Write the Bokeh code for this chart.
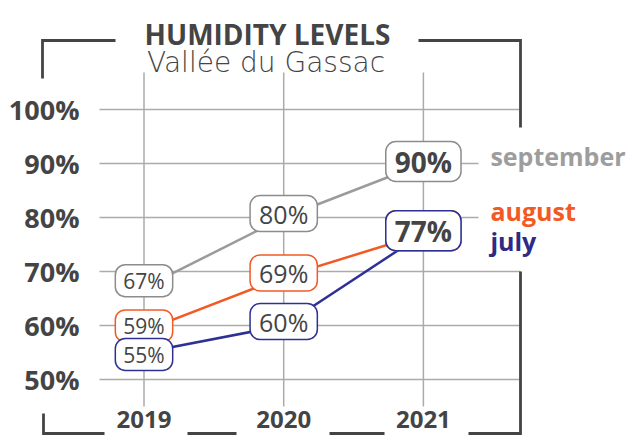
from bokeh.plotting import figure
from bokeh.models import Range1d
from bokeh.core.properties import value
from bokeh.embed import file_html
from bokeh.resources import INLINE

# ---------------- data ----------------
years = ["2019", "2020", "2021"]
september = [67, 80, 90]
august = [59, 69, 77]
july = [55, 60, 77]
series_names = ["september", "august", "july"]
y_ticks = [50, 60, 70, 80, 90, 100]
y_tick_labels = ["50%", "60%", "70%", "80%", "90%", "100%"]
TITLE = "HUMIDITY LEVELS"
SUBTITLE = "Vallée du Gassac"

# ---------------- layout / style ----------------
W, H = 629, 436
X0, DX = 143.5, 139.7     # px of first year, px per year
Y0, DY = 649.0, 5.4       # px_y = Y0 - DY * value

def px(x):
    return (x - X0) / DX

def py(y):
    return (Y0 - y) / DY

DARK = "#444444"
GRID = "#ababab"
line_colors = ["#9b9b9b", "#f15a24", "#2e3192"]
box_colors = ["#8c8c8c", "#f15a24", "#2e3192"]
legend_colors = ["#9d9d9d", "#f15a24", "#2e2a86"]
legend_dy = [-8, -23, 7]
label_dy = [[-7, -4, -2], [-5, -4, -3], [2, -4, -3]]
year_font_sizes = ["21px", "25px", "28px"]
year_font_styles = ["normal", "normal", "bold"]
year_pads = [(8, 2), (9, 1), (9, 1)]
FONT = value("Open Sans")

p = figure(width=W, height=H,
           x_range=Range1d(px(0), px(W)),
           y_range=Range1d(py(H), py(0)),
           output_backend="svg", toolbar_location=None,
           x_axis_type=None, y_axis_type=None,
           min_border=0, outline_line_color=None,
           background_fill_color="white", border_fill_color="white")

xi = list(range(len(years)))

# horizontal grid lines (shortened where the legend sits)
gl_right = [478 if t in (80, 90) else 520 for t in y_ticks]
p.segment(x0=[px(99)] * len(y_ticks), y0=y_ticks,
          x1=[px(r) for r in gl_right], y1=y_ticks,
          line_color=GRID, line_width=1.5)
# vertical grid lines
p.segment(x0=xi, y0=[py(72)] * len(xi), x1=xi, y1=[py(406)] * len(xi),
          line_color=GRID, line_width=1.5)

# bracket frame
frame_paths = [
    [(42, 78), (42, 40), (115, 40)],
    [(418, 40), (520, 40), (520, 127)],
    [(520, 271), (520, 433), (468, 433)],
    [(43, 413), (43, 433), (104, 433)],
    [(187, 433), (236, 433)],
    [(329, 433), (384, 433)],
]
p.multi_line(xs=[[px(a) for a, b in path] for path in frame_paths],
             ys=[[py(b) for a, b in path] for path in frame_paths],
             line_color=DARK, line_width=2.8, line_join="miter", line_cap="butt")

# series lines
all_series = [september, august, july]
for vals, col in zip(all_series, line_colors):
    p.line(xi, vals, line_color=col, line_width=2.5)

# value labels in rounded boxes
for j in range(len(years)):
    for k, (vals, bcol) in enumerate(zip(all_series, box_colors)):
        p.text(x=[xi[j]], y=[vals[j]], text=[f"{vals[j]}%"],
               text_align="center", text_baseline="middle",
               text_font=FONT, text_font_size=year_font_sizes[j],
               text_font_style=year_font_styles[j], text_color=DARK,
               y_offset=label_dy[k][j],
               background_fill_color="white", border_line_color=bcol,
               border_line_width=1.5, border_radius=10, padding=year_pads[j])

# series names (legend)
p.text(x=[xi[-1]] * 3, y=[s[-1] for s in all_series], text=series_names,
       x_offset=67, y_offset=legend_dy,
       text_align="left", text_baseline="middle",
       text_font=FONT, text_font_size="25px", text_font_style="bold",
       text_color=legend_colors)

# y tick labels
p.text(x=[px(79)] * len(y_ticks), y=y_ticks, text=y_tick_labels,
       text_align="right", text_baseline="middle",
       text_font=FONT, text_font_size="27px", text_font_style="bold",
       text_color=DARK)

# x tick labels
p.text(x=xi, y=[py(419)] * len(xi), text=years,
       text_align="center", text_baseline="middle",
       text_font=FONT, text_font_size="24px", text_font_style="bold",
       text_color=DARK)

# title & subtitle
p.text(x=[px(267)], y=[py(33)], text=[TITLE], text_align="center",
       text_baseline="alphabetic", text_font=FONT, text_font_size="28px",
       text_font_style="bold", text_color=DARK)
p.text(x=[px(265.5)], y=[py(62)], text=[SUBTITLE], text_align="center",
       text_baseline="alphabetic", text_font=value("DejaVu Sans Light, Open Sans"),
       text_font_size="28px", text_color=DARK)

open("out.html", "w").write(file_html(p, INLINE))
